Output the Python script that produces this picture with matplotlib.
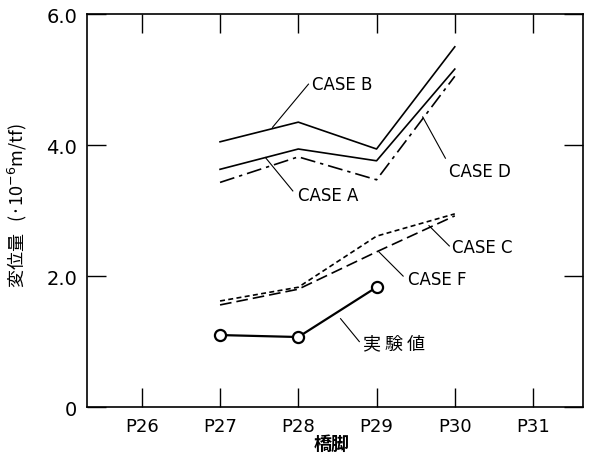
import matplotlib
matplotlib.use("Agg")
import matplotlib.pyplot as plt

# ── DATA ─────────────────────────────────────────────
piers = [26, 27, 28, 29, 30, 31]
pier_labels = ["P26", "P27", "P28", "P29", "P30", "P31"]

x_calc = [27, 28, 29, 30]
case_b = [4.05, 4.35, 3.94, 5.50]
case_a = [3.63, 3.94, 3.76, 5.16]
case_d = [3.43, 3.82, 3.47, 5.05]
case_c = [1.62, 1.83, 2.61, 2.95]
case_f = [1.56, 1.80, 2.37, 2.92]

x_test = [27, 28, 29]
test_vals = [1.10, 1.07, 1.83]

y_ticks = [0, 2, 4, 6]
y_tick_labels = ["0", "2.0", "4.0", "6.0"]

jp = ["Noto Sans CJK JP", "DejaVu Sans"]
latin = "DejaVu Sans"
plt.rcParams["font.family"] = jp

# ── PLOT ─────────────────────────────────────────────
fig = plt.figure(figsize=(5.92, 4.56), dpi=100)
ax = fig.add_axes([0.147, 0.105, 0.838, 0.862])

lw = 1.2
ax.plot(x_calc, case_b, color="black", lw=lw)
ax.plot(x_calc, case_a, color="black", lw=lw)
ax.plot(x_calc, case_d, color="black", lw=lw, linestyle=(0, (9, 3, 2, 3)))
ax.plot(x_calc, case_c, color="black", lw=lw, linestyle=(0, (3, 2)))
ax.plot(x_calc, case_f, color="black", lw=lw, linestyle=(0, (7, 3)))
ax.plot(x_test, test_vals, color="black", lw=1.6, marker="o", ms=8,
        markerfacecolor="white", markeredgewidth=1.6)

# annotations: (text, text position, pointer start, pointer end)
notes = [
    ("CASE B", (28.18, 4.93), (28.13, 4.93), (27.67, 4.27)),
    ("CASE D", (29.92, 3.60), (29.59, 4.43), (29.88, 3.80)),
    ("CASE A", (28.0, 3.24), (27.58, 3.81), (27.93, 3.30)),
    ("CASE C", (29.96, 2.45), (29.67, 2.77), (29.93, 2.46)),
    ("CASE F", (29.4, 1.96), (29.03, 2.37), (29.34, 2.00)),
]
for label, tpos, p0, p1 in notes:
    ax.plot([p0[0], p1[0]], [p0[1], p1[1]], color="black", lw=0.8)
    ax.text(tpos[0], tpos[1], label, fontsize=12, va="center", ha="left",
            family=latin)

ax.plot([28.54, 28.78], [1.35, 1.00], color="black", lw=0.8)
ax.text(28.83, 0.98, "実 験 値", fontsize=13, va="center", ha="left", family=jp)

# axes styling
ax.set_xlim(25.3, 31.64)
ax.set_ylim(0, 6)
ax.set_xticks(piers)
ax.set_xticklabels(pier_labels, fontsize=13, family=latin)
ax.set_yticks(y_ticks)
ax.set_yticklabels(y_tick_labels, fontsize=14, family=latin)
ax.tick_params(direction="in", length=14, width=1.0, top=True, right=True, pad=7)
for s in ax.spines.values():
    s.set_linewidth(1.2)

fig.text(0.56, 0.026, "橋脚", fontsize=13, ha="center", va="center",
         family=jp, fontweight="bold")
fig.text(0.03, 0.55, "変位量   (·10$^{-6}$m/tf)", rotation=90, fontsize=13,
         ha="center", va="center", family=jp)

fig.savefig("out.png", dpi=100)
